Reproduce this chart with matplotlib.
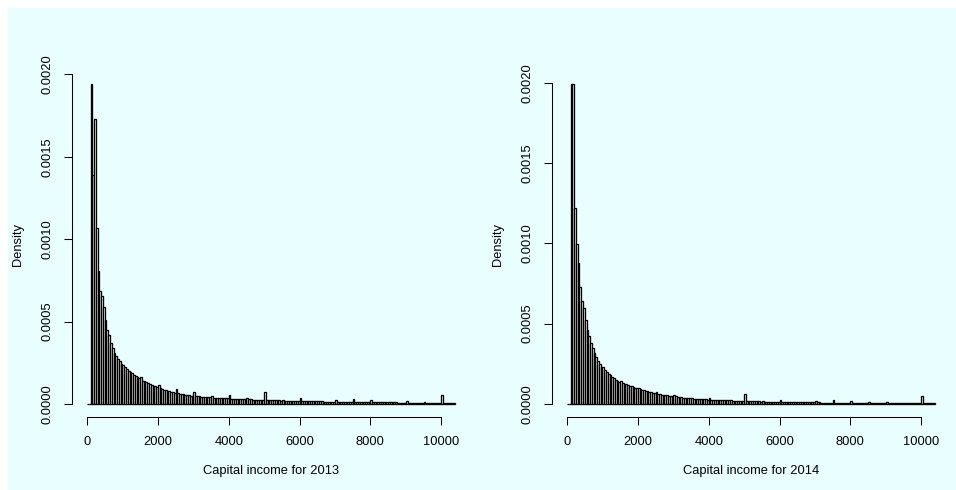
'''plot.py  Two R-style density histograms of capital income (2013 and 2014).
'''

import numpy as np
import matplotlib
matplotlib.use('Agg')
import matplotlib.pyplot as plt
from matplotlib.patches import Rectangle

plt.rcParams['font.family'] = ['Liberation Sans', 'DejaVu Sans']

# histogram bins: width 50, from 0 to 10400
bin_width = 50
bin_start = 0
bin_count = 208

# densities, in units of 1e-6 (one value per bin)
dens_2013 = [
    0, 0, 1940, 1390, 1730, 1070, 810, 686, 655, 590,
    510, 450, 420, 370, 340, 310, 290, 275, 260, 240,
    235, 222, 212, 203, 195, 186, 178, 170, 163, 156,
    162, 142, 137, 132, 127, 122, 117, 112, 107, 102,
    115, 95, 91, 88, 85, 81, 78, 75, 72, 69,
    89, 64, 62, 60, 58, 56, 54, 53, 51, 50,
    72, 48, 47, 46, 45, 44, 43, 42, 41, 40,
    49, 39, 38, 38, 37, 36, 36, 35, 34, 34,
    52, 33, 33, 32, 31, 31, 30, 30, 29, 29,
    37, 28, 28, 27, 27, 26, 26, 26, 25, 25,
    71, 24, 24, 23, 23, 23, 22, 22, 22, 21,
    26, 21, 20, 20, 20, 20, 19, 19, 19, 19,
    35, 18, 18, 18, 18, 17, 17, 17, 17, 16,
    20, 16, 16, 15, 15, 15, 15, 15, 14, 14,
    24, 14, 14, 14, 13, 13, 13, 13, 13, 13,
    31, 13, 12, 12, 12, 12, 12, 12, 11, 11,
    26, 11, 11, 11, 11, 11, 10, 10, 10, 10,
    15, 10, 10, 10, 10, 9, 9, 9, 9, 9,
    20, 9, 9, 9, 8, 8, 8, 8, 8, 8,
    13, 8, 8, 8, 7, 7, 7, 7, 7, 7,
    55, 7, 7, 6, 6, 6, 6, 6,
]

dens_2014 = [
    0, 0, 1990, 1990, 1220, 996, 880, 730, 640, 600,
    520, 460, 425, 380, 346, 317, 290, 270, 250, 232,
    228, 210, 198, 188, 178, 168, 160, 152, 146, 140,
    145, 132, 127, 122, 118, 114, 110, 106, 102, 98,
    100, 92, 89, 86, 83, 80, 77, 74, 71, 68,
    76, 63, 61, 59, 57, 55, 53, 52, 50, 49,
    59, 47, 45, 43, 42, 40, 39, 38, 37, 36,
    40, 34, 33, 33, 32, 31, 30, 30, 29, 28,
    37, 27, 27, 26, 26, 25, 25, 24, 24, 23,
    28, 22, 22, 21, 21, 21, 20, 20, 19, 19,
    62, 18, 18, 17, 17, 17, 16, 16, 16, 15,
    19, 15, 15, 14, 14, 14, 14, 13, 13, 13,
    26, 13, 13, 12, 12, 12, 12, 12, 11, 11,
    15, 11, 11, 11, 11, 10, 10, 10, 10, 10,
    20, 10, 10, 9, 9, 9, 9, 9, 9, 9,
    24, 9, 9, 8, 8, 8, 8, 8, 8, 8,
    20, 8, 8, 8, 7, 7, 7, 7, 7, 7,
    11, 7, 7, 7, 7, 7, 6, 6, 6, 6,
    15, 6, 6, 6, 6, 6, 6, 6, 6, 5,
    9, 5, 5, 5, 5, 5, 5, 5, 5, 5,
    48, 5, 5, 5, 5, 4, 4, 4,
]

x_ticks = [0, 2000, 4000, 6000, 8000, 10000]
y_ticks = [0.0, 0.0005, 0.0010, 0.0015, 0.0020]
y_ticklabels = ['0.0000', '0.0005', '0.0010', '0.0015', '0.0020']
x_labels = ['Capital income for 2013', 'Capital income for 2014']

bg = '#e9ffff'
fsize = 9.3


def hist_panel(ax, dens, xlabel):
  '''hist_panel(ax, dens, xlabel) draws one R-like histogram in ax.'''
  d = np.asarray(dens) * 1e-6
  left = bin_start + bin_width * np.arange(len(d))
  ax.bar(left, d, width=bin_width, align='edge', color='white',
         edgecolor='black', linewidth=0.95)

  # R style: 4 % padding on each side
  x0, x1 = bin_start, bin_start + bin_width * bin_count
  pad = 0.04 * (x1 - x0)
  ax.set_xlim(x0 - pad, x1 + pad)
  m = d.max()
  ax.set_ylim(-0.04 * m, 1.04 * m)

  ax.set_facecolor('none')
  for s in ['top', 'right']:
    ax.spines[s].set_visible(False)
  ax.spines['left'].set_bounds(y_ticks[0], y_ticks[-1])
  ax.spines['bottom'].set_bounds(x_ticks[0], x_ticks[-1])
  for s in ['left', 'bottom']:
    ax.spines[s].set_linewidth(0.75)

  ax.set_xticks(x_ticks)
  ax.set_xticklabels([str(t) for t in x_ticks])
  ax.set_yticks(y_ticks)
  ax.set_yticklabels(y_ticklabels, rotation=90, va='center')
  ax.tick_params(length=5.5, width=0.75, pad=8, labelsize=fsize)

  # axis titles on R's third margin line
  ax.set_xlabel(xlabel, fontsize=fsize, va='center')
  ax.xaxis.set_label_coords(0.5, -0.157)
  ax.set_ylabel('Density', fontsize=fsize, va='center')
  ax.yaxis.set_label_coords(-0.137, 0.5)


if __name__ == "__main__":
  assert len(dens_2013) == bin_count and len(dens_2014) == bin_count

  fig = plt.figure(figsize=(9.56, 4.9), dpi=100, facecolor='white')
  # light cyan page, white strip only along the top and left edges
  fig.patches.append(Rectangle((8 / 956, 0), 1, 482 / 490,
                               transform=fig.transFigure, facecolor=bg,
                               edgecolor='none', zorder=-10))

  ax1 = fig.add_axes([0.0756, 0.1494, 0.4162, 0.7047])
  ax2 = fig.add_axes([0.5777, 0.1494, 0.4162, 0.7047])

  hist_panel(ax1, dens_2013, x_labels[0])
  hist_panel(ax2, dens_2014, x_labels[1])

  plt.savefig('out.png', dpi=100, facecolor='white')
